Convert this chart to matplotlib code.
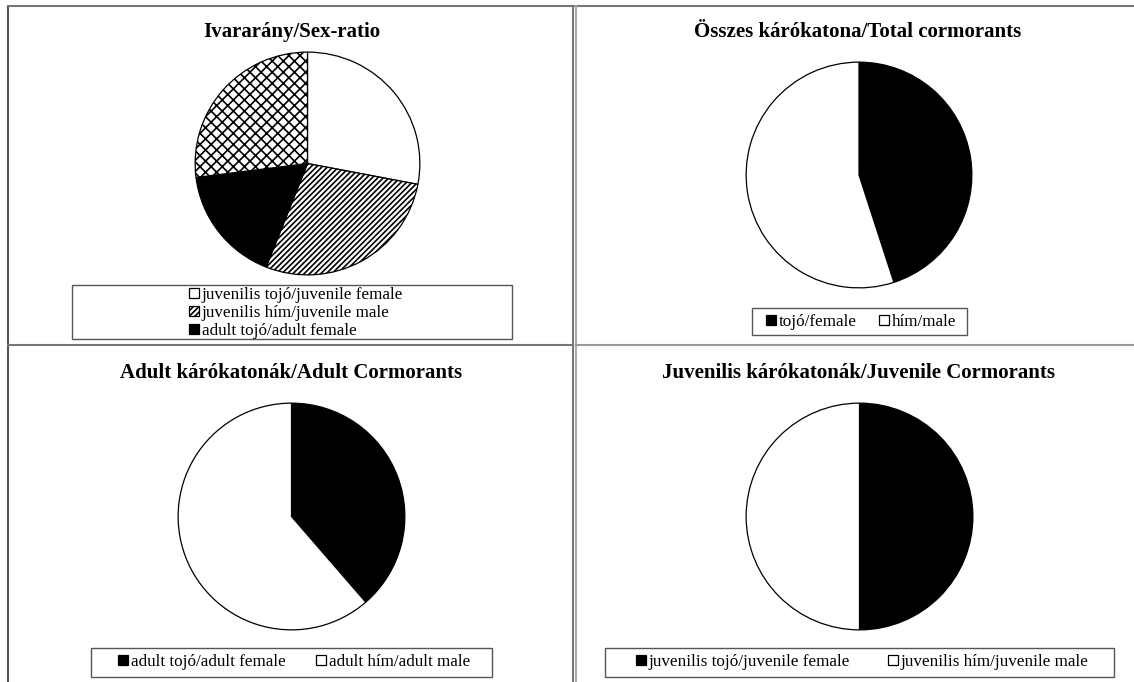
import matplotlib
matplotlib.use("Agg")
import matplotlib.pyplot as plt
from matplotlib.patches import Rectangle
from matplotlib.lines import Line2D

plt.rcParams['font.family'] = ['Liberation Serif', 'DejaVu Serif']
plt.rcParams['hatch.linewidth'] = 1.2
plt.rcParams['hatch.color'] = '#333333'

W, H = 1134, 682

# data (percent of all cormorants)
sex_labels = ["juvenilis tojó/juvenile female", "juvenilis hím/juvenile male",
              "adult tojó/adult female", "adult hím/adult male"]
sex_values = [28, 28, 17, 27]

total_labels = ["tojó/female", "hím/male"]
total_values = [45, 55]

adult_labels = ["adult tojó/adult female", "adult hím/adult male"]
adult_values = [17, 27]

juv_labels = ["juvenilis tojó/juvenile female", "juvenilis hím/juvenile male"]
juv_values = [28, 28]


def box(x0, y0, x1, y1):
    # pixel box -> figure fraction rect
    return [x0 / W, 1 - y1 / H, (x1 - x0) / W, (y1 - y0) / H]


def fx(x):
    return x / W


def fy(y):
    return 1 - y / H


fig = plt.figure(figsize=(W / 100, H / 100), dpi=100)


def draw_pie(rect, values, colors, hatches):
    ax = fig.add_axes(rect)
    wedges, _ = ax.pie(values, startangle=90, counterclock=False, colors=colors,
                       wedgeprops=dict(edgecolor='black', linewidth=0.9))
    for w, h in zip(wedges, hatches):
        if h:
            w.set_hatch(h)
    ax.set_xlim(-1.01, 1.01)
    ax.set_ylim(-1.01, 1.01)
    ax.set_aspect('auto')
    ax.axis('off')
    return wedges


def frame(x0, y0, x1, y1):
    fig.add_artist(Rectangle((fx(x0), fy(y1)), (x1 - x0) / W, (y1 - y0) / H,
                             transform=fig.transFigure, fill=False,
                             edgecolor='#555555', linewidth=1))


leg_kw = dict(loc='center', frameon=False, fontsize=12.3, handlelength=0.6,
              handleheight=0.6, handletextpad=0.15, borderpad=0)

# panel 1
w1 = draw_pie(box(194, 51, 421, 276), sex_values,
              ['white', 'white', 'black', 'white'], [None, '//////', None, 'xxx'])
fig.text(fx(292), fy(32), "Ivararány/Sex-ratio", ha='center', va='center',
         fontsize=15, fontweight='bold')
frame(72, 285, 512, 339)
fig.legend(w1[:3], sex_labels[:3], bbox_to_anchor=(fx(296), fy(313)),
           labelspacing=0.12, **leg_kw)

# panel 2
w2 = draw_pie(box(745, 61, 973, 289), total_values, ['black', 'white'], [None, None])
fig.text(fx(858), fy(32), "Összes kárókatona/Total cormorants", ha='center', va='center',
         fontsize=15, fontweight='bold')
frame(752, 308, 967, 335)
fig.legend(w2, total_labels, bbox_to_anchor=(fx(861), fy(322)),
           ncol=2, columnspacing=1.3, **leg_kw)

# panel 3
w3 = draw_pie(box(177, 402, 406, 631), adult_values, ['black', 'white'], [None, None])
fig.text(fx(291), fy(373), "Adult kárókatonák/Adult Cormorants", ha='center', va='center',
         fontsize=15, fontweight='bold')
frame(91, 648, 492, 677)
fig.legend(w3, adult_labels, bbox_to_anchor=(fx(294), fy(662)),
           ncol=2, columnspacing=1.8, **leg_kw)

# panel 4
w4 = draw_pie(box(745, 402, 974, 631), juv_values, ['black', 'white'], [None, None])
fig.text(fx(858), fy(373), "Juvenilis kárókatonák/Juvenile Cormorants", ha='center', va='center',
         fontsize=15, fontweight='bold')
frame(605, 648, 1114, 677)
fig.legend(w4, juv_labels, bbox_to_anchor=(fx(862), fy(662)),
           ncol=2, columnspacing=2.2, **leg_kw)

# cell borders of the surrounding table
grid = [((8, 8), (6, 682), '#555555'),
        ((8, 1134), (6, 6), '#777777'),
        ((573, 573), (6, 682), '#777777'),
        ((576, 576), (6, 682), '#aaaaaa'),
        ((8, 573), (345, 345), '#777777'),
        ((576, 1134), (345, 345), '#999999')]
for xs, ys, c in grid:
    fig.add_artist(Line2D([fx(xs[0]), fx(xs[1])], [fy(ys[0]), fy(ys[1])],
                          transform=fig.transFigure, color=c, linewidth=1.5))

fig.savefig("out.png", dpi=100)
